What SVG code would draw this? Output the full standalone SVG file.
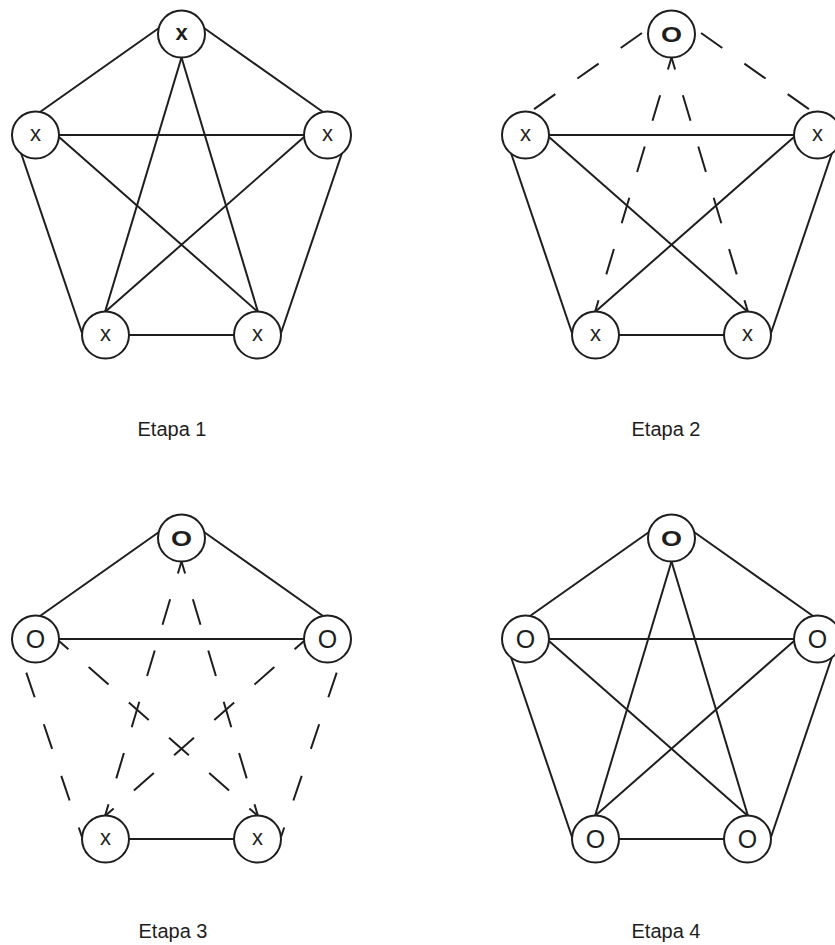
<svg xmlns="http://www.w3.org/2000/svg" width="835" height="945" viewBox="0 0 835 945">
<style>
.e{stroke:#1e1e1e;stroke-width:2;fill:none;stroke-linecap:butt}
.dA{stroke-dasharray:26.5 27;stroke-dashoffset:14}
.dB{stroke-dasharray:26 28.5;stroke-dashoffset:38}
.dC{stroke-dasharray:26 27;stroke-dashoffset:48}
.n{fill:#fff;stroke:#1e1e1e;stroke-width:2}
.t{font-family:"Liberation Sans",Arial,sans-serif;fill:#1e1e1e;text-anchor:middle}
.x{font-size:22px}
.xb{font-size:22px;font-weight:bold}
.o{font-size:25px}
.ob{font-size:22px;font-weight:bold}
.cap{font-family:"Liberation Sans",Arial,sans-serif;font-size:20px;fill:#1e1e1e;text-anchor:middle}
</style>
<rect width="835" height="945" fill="#fff"/>

<!-- Etapa 1 -->
<g id="etapa1">
  <g id="e1-connectors">
    <line class="e" x1="40" y1="112" x2="159" y2="28"/>
    <line class="e" x1="323" y1="112" x2="204" y2="28"/>
    <line class="e" x1="59" y1="135" x2="304" y2="135"/>
    <line class="e" x1="21" y1="153" x2="82" y2="333"/>
    <line class="e" x1="342" y1="153" x2="281" y2="333"/>
    <line class="e" x1="129" y1="335" x2="234" y2="335"/>
    <line class="e" x1="181.5" y1="57.5" x2="105" y2="312"/>
    <line class="e" x1="181.5" y1="57.5" x2="258" y2="312"/>
    <line class="e" x1="59" y1="137" x2="258" y2="312"/>
    <line class="e" x1="304" y1="137" x2="105" y2="312"/>
  </g>
  <g id="e1-top"><circle class="n" cx="181.5" cy="34" r="23.5"/><text class="t xb" x="181.5" y="40">x</text></g>
  <g id="e1-left"><circle class="n" cx="35.5" cy="135" r="23.5"/><text class="t x" x="35.5" y="141">x</text></g>
  <g id="e1-right"><circle class="n" cx="327.5" cy="135" r="23.5"/><text class="t x" x="327.5" y="141">x</text></g>
  <g id="e1-bl"><circle class="n" cx="105.5" cy="335" r="23.5"/><text class="t x" x="105.5" y="341">x</text></g>
  <g id="e1-br"><circle class="n" cx="257.5" cy="335" r="23.5"/><text class="t x" x="257.5" y="341">x</text></g>
</g>

<!-- Etapa 2 -->
<g id="etapa2" transform="translate(490,0)">
  <g id="e2-connectors">
    <line class="e dC" x1="40" y1="112" x2="159" y2="28"/>
    <line class="e dC" x1="323" y1="112" x2="204" y2="28"/>
    <line class="e" x1="59" y1="135" x2="304" y2="135"/>
    <line class="e" x1="21" y1="153" x2="82" y2="333"/>
    <line class="e" x1="342" y1="153" x2="281" y2="333"/>
    <line class="e" x1="129" y1="335" x2="234" y2="335"/>
    <line class="e dA" x1="181.5" y1="57.5" x2="105" y2="312"/>
    <line class="e dA" x1="181.5" y1="57.5" x2="258" y2="312"/>
    <line class="e" x1="59" y1="137" x2="258" y2="312"/>
    <line class="e" x1="304" y1="137" x2="105" y2="312"/>
  </g>
  <g id="e2-top"><circle class="n" cx="181.5" cy="34" r="23.5"/><text class="t ob" x="181.5" y="42" textLength="21" lengthAdjust="spacingAndGlyphs">O</text></g>
  <g id="e2-left"><circle class="n" cx="35.5" cy="135" r="23.5"/><text class="t x" x="35.5" y="141">x</text></g>
  <g id="e2-right"><circle class="n" cx="327.5" cy="135" r="23.5"/><text class="t x" x="327.5" y="141">x</text></g>
  <g id="e2-bl"><circle class="n" cx="105.5" cy="335" r="23.5"/><text class="t x" x="105.5" y="341">x</text></g>
  <g id="e2-br"><circle class="n" cx="257.5" cy="335" r="23.5"/><text class="t x" x="257.5" y="341">x</text></g>
</g>

<!-- Etapa 3 -->
<g id="etapa3" transform="translate(0,504)">
  <g id="e3-connectors">
    <line class="e" x1="40" y1="112" x2="159" y2="28"/>
    <line class="e" x1="323" y1="112" x2="204" y2="28"/>
    <line class="e" x1="59" y1="135" x2="304" y2="135"/>
    <line class="e dB" x1="21" y1="153" x2="82" y2="333"/>
    <line class="e dB" x1="342" y1="153" x2="281" y2="333"/>
    <line class="e" x1="129" y1="335" x2="234" y2="335"/>
    <line class="e dA" x1="181.5" y1="57.5" x2="105" y2="312"/>
    <line class="e dA" x1="181.5" y1="57.5" x2="258" y2="312"/>
    <line class="e dA" x1="59" y1="137" x2="258" y2="312"/>
    <line class="e dA" x1="304" y1="137" x2="105" y2="312"/>
  </g>
  <g id="e3-top"><circle class="n" cx="181.5" cy="34" r="23.5"/><text class="t ob" x="181.5" y="42" textLength="21" lengthAdjust="spacingAndGlyphs">O</text></g>
  <g id="e3-left"><circle class="n" cx="35.5" cy="135" r="23.5"/><text class="t o" x="35.5" y="144">O</text></g>
  <g id="e3-right"><circle class="n" cx="327.5" cy="135" r="23.5"/><text class="t o" x="327.5" y="144">O</text></g>
  <g id="e3-bl"><circle class="n" cx="105.5" cy="335" r="23.5"/><text class="t x" x="105.5" y="341">x</text></g>
  <g id="e3-br"><circle class="n" cx="257.5" cy="335" r="23.5"/><text class="t x" x="257.5" y="341">x</text></g>
</g>

<!-- Etapa 4 -->
<g id="etapa4" transform="translate(490,504)">
  <g id="e4-connectors">
    <line class="e" x1="40" y1="112" x2="159" y2="28"/>
    <line class="e" x1="323" y1="112" x2="204" y2="28"/>
    <line class="e" x1="59" y1="135" x2="304" y2="135"/>
    <line class="e" x1="21" y1="153" x2="82" y2="333"/>
    <line class="e" x1="342" y1="153" x2="281" y2="333"/>
    <line class="e" x1="129" y1="335" x2="234" y2="335"/>
    <line class="e" x1="181.5" y1="57.5" x2="105" y2="312"/>
    <line class="e" x1="181.5" y1="57.5" x2="258" y2="312"/>
    <line class="e" x1="59" y1="137" x2="258" y2="312"/>
    <line class="e" x1="304" y1="137" x2="105" y2="312"/>
  </g>
  <g id="e4-top"><circle class="n" cx="181.5" cy="34" r="23.5"/><text class="t ob" x="181.5" y="42" textLength="21" lengthAdjust="spacingAndGlyphs">O</text></g>
  <g id="e4-left"><circle class="n" cx="35.5" cy="135" r="23.5"/><text class="t o" x="35.5" y="144">O</text></g>
  <g id="e4-right"><circle class="n" cx="327.5" cy="135" r="23.5"/><text class="t o" x="327.5" y="144">O</text></g>
  <g id="e4-bl"><circle class="n" cx="105.5" cy="335" r="23.5"/><text class="t o" x="105.5" y="344">O</text></g>
  <g id="e4-br"><circle class="n" cx="257.5" cy="335" r="23.5"/><text class="t o" x="257.5" y="344">O</text></g>
</g>

<g id="captions">
  <text class="cap" x="172" y="436">Etapa 1</text>
  <text class="cap" x="666" y="436">Etapa 2</text>
  <text class="cap" x="173" y="938">Etapa 3</text>
  <text class="cap" x="666" y="938">Etapa 4</text>
</g>
</svg>
